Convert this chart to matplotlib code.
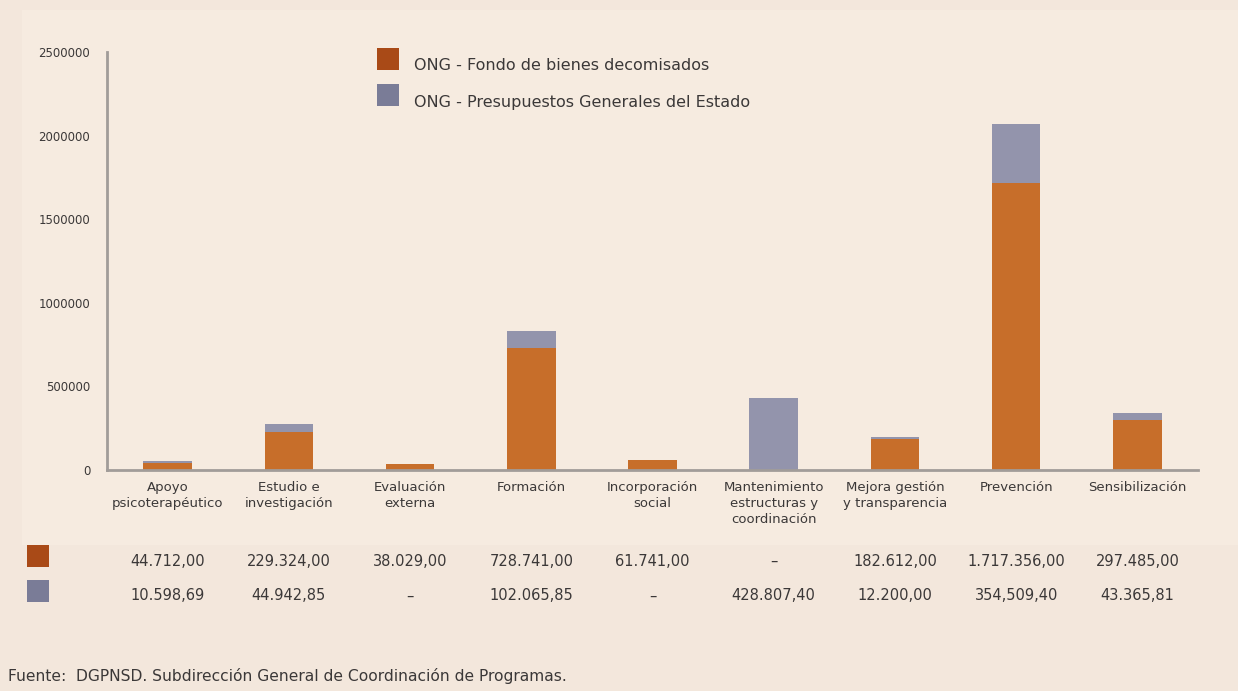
"""Stacked bars: ONG funding by programme area, with value table underneath."""

import matplotlib

matplotlib.use("Agg")
import matplotlib.pyplot as plt
import matplotlib.transforms as mtransforms
from matplotlib.patches import Rectangle
import numpy as np

plt.rcParams["font.family"] = ["DejaVu Sans"]

CATEGORIES = [
    "Apoyo\npsicoterapéutico",
    "Estudio e\ninvestigación",
    "Evaluación\nexterna",
    "Formación",
    "Incorporación\nsocial",
    "Mantenimiento\nestructuras y\ncoordinación",
    "Mejora gestión\ny transparencia",
    "Prevención",
    "Sensibilización",
]
FONDO = [44712.00, 229324.00, 38029.00, 728741.00, 61741.00, 0.0, 182612.00, 1717356.00, 297485.00]
PGE = [10598.69, 44942.85, 0.0, 102065.85, 0.0, 428807.40, 12200.00, 354509.40, 43365.81]
FONDO_LABELS = ["44.712,00", "229.324,00", "38.029,00", "728.741,00", "61.741,00", "–",
                "182.612,00", "1.717.356,00", "297.485,00"]
PGE_LABELS = ["10.598,69", "44.942,85", "–", "102.065,85", "–", "428.807,40",
              "12.200,00", "354,509,40", "43.365,81"]
SERIES_NAMES = ["ONG - Fondo de bienes decomisados", "ONG - Presupuestos Generales del Estado"]
Y_TICKS = [0, 500000, 1000000, 1500000, 2000000, 2500000]
SOURCE = "Fuente:  DGPNSD. Subdirección General de Coordinación de Programas."

BG = "#f3e7dc"
PANEL = "#f6ebe0"
BAR_ORANGE = "#c76e2a"
BAR_GREY = "#9394ac"
KEY_ORANGE = "#a94a17"
KEY_GREY = "#7a7c97"
TEXT = "#3b3838"
AXIS = "#a19c99"

W, H = 1238, 691


def fx(px):
    return px / W


def fy(py):
    return 1 - py / H


def main() -> None:
    fig = plt.figure(figsize=(W / 100, H / 100), dpi=100, facecolor=BG)
    fig.patches.append(Rectangle((fx(22), fy(545)), fx(1216), fy(10) - fy(545),
                                 transform=fig.transFigure, facecolor=PANEL,
                                 edgecolor="none", zorder=-1))

    ax = fig.add_axes([fx(107), fy(470), fx(1198) - fx(107), fy(52) - fy(470)])
    ax.set_facecolor("none")

    x = np.arange(len(CATEGORIES))
    fondo = np.array(FONDO)
    pge = np.array(PGE)
    ax.bar(x, fondo, width=0.4, color=BAR_ORANGE, zorder=2)
    ax.bar(x, pge, width=0.4, bottom=fondo, color=BAR_GREY, zorder=2)

    ax.set_xlim(-0.5, len(CATEGORIES) - 0.5)
    ax.set_ylim(0, 2500000)
    ax.set_yticks(Y_TICKS)
    ax.set_yticklabels([str(t) for t in Y_TICKS], fontsize=8.5, color=TEXT)
    ax.set_xticks(x)
    ax.set_xticklabels(CATEGORIES, fontsize=9.5, color=TEXT, linespacing=1.3)
    ax.tick_params(axis="both", length=0)
    ax.tick_params(axis="y", pad=12)
    ax.tick_params(axis="x", pad=8)
    for side in ("top", "right"):
        ax.spines[side].set_visible(False)
    for side in ("left", "bottom"):
        ax.spines[side].set_color(AXIS)
        ax.spines[side].set_linewidth(2)

    # legend in the upper middle
    for i, (name, col) in enumerate(zip(SERIES_NAMES, [KEY_ORANGE, KEY_GREY])):
        top = 48 + i * 36
        fig.patches.append(Rectangle((fx(377), fy(top + 22)), fx(22), fy(top) - fy(top + 22),
                                     transform=fig.transFigure, facecolor=col, edgecolor="none"))
        fig.text(fx(414), fy(top + 18), name, fontsize=11.5, color=TEXT, va="center")

    # value table under the chart
    trans = mtransforms.blended_transform_factory(ax.transData, fig.transFigure)
    for row, (labels, col) in enumerate(zip([FONDO_LABELS, PGE_LABELS], [KEY_ORANGE, KEY_GREY])):
        top = 545 + row * 35
        fig.patches.append(Rectangle((fx(27), fy(top + 22)), fx(22), fy(top) - fy(top + 22),
                                     transform=fig.transFigure, facecolor=col, edgecolor="none"))
        for xi, label in zip(x, labels):
            fig.text(xi, fy(top + 16), label, transform=trans, fontsize=10.5,
                     color=TEXT, ha="center", va="center")

    fig.text(fx(8), fy(676), SOURCE, fontsize=11.2, color=TEXT, va="center")

    fig.savefig("out.png", dpi=100, facecolor=BG)
    plt.close(fig)


if __name__ == "__main__":
    main()
